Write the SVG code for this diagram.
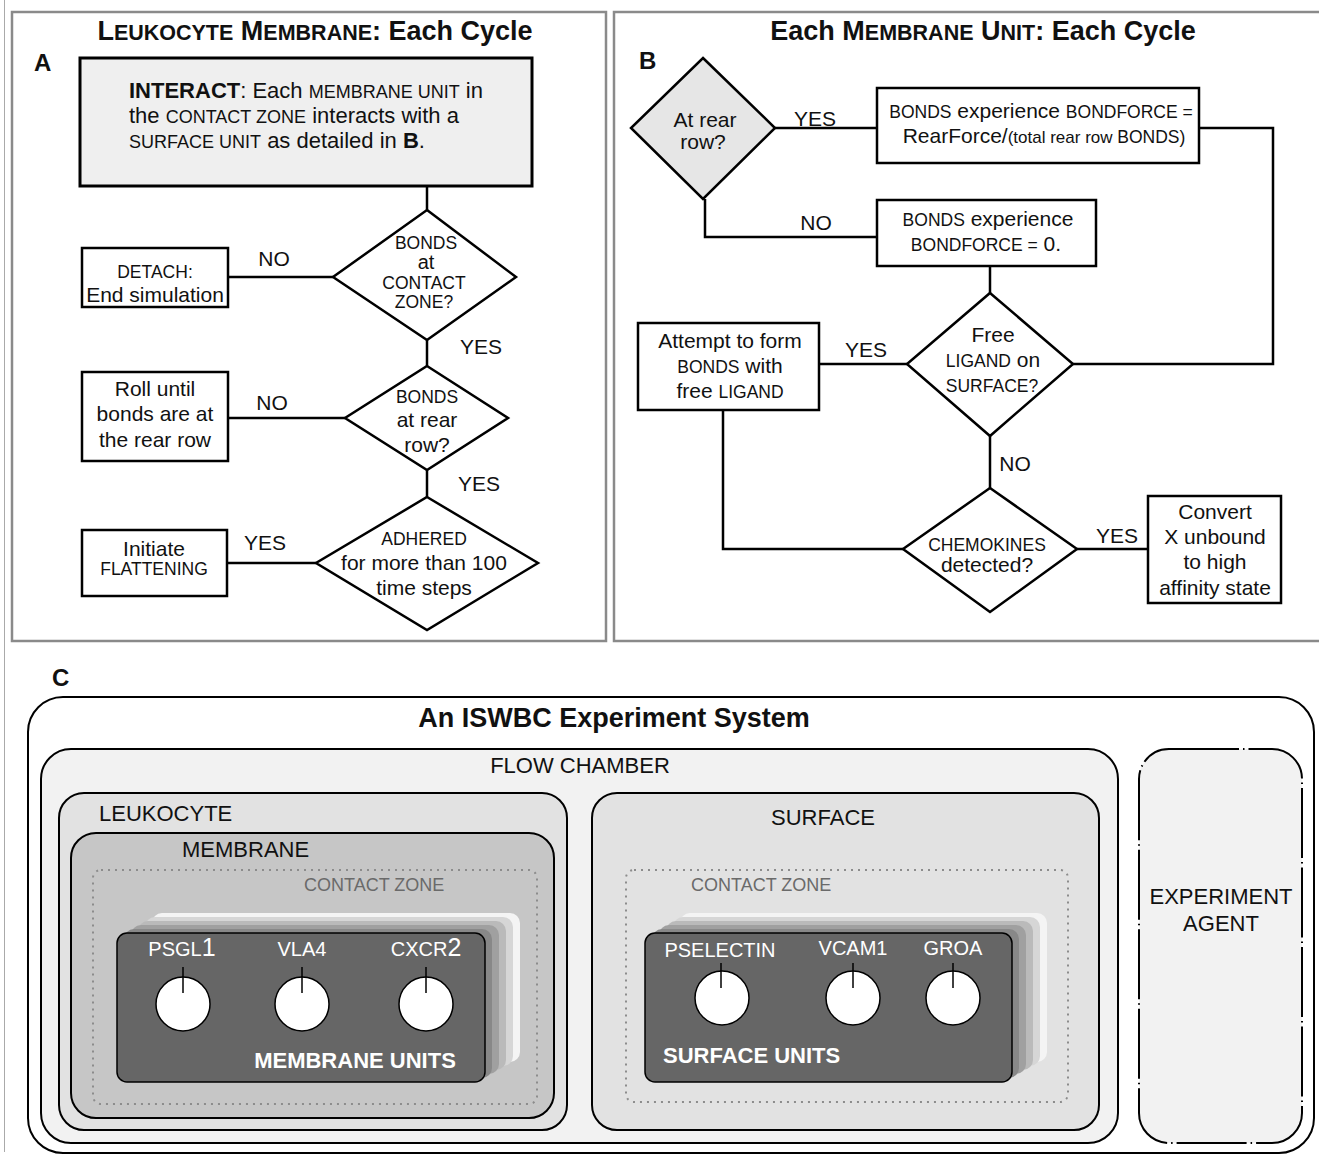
<svg xmlns="http://www.w3.org/2000/svg" width="1319" height="1156" viewBox="0 0 1319 1156">
<style>
text { font-family: "Liberation Sans", Arial, sans-serif; fill: #111; }
.t { font-size: 21px; text-anchor: middle; }
.l { font-size: 21px; text-anchor: start; }
.i { font-size: 22px; text-anchor: start; }
.sc { font-size: 17.5px; }
.b { font-weight: bold; }
.ttl { font-size: 27px; font-weight: bold; text-anchor: middle; }
.tsc { font-size: 21.5px; }
.frame { fill: none; stroke: #8a8a8a; stroke-width: 2.5; }
.box { fill: #fff; stroke: #000; stroke-width: 2.5; }
.dia { fill: #fff; stroke: #000; stroke-width: 2.5; }
.conn line, .conn polyline { stroke: #000; stroke-width: 2.5; fill: none; }
.cont { stroke: #000; stroke-width: 2; }
.cz { fill: none; stroke: #8c8c8c; stroke-width: 2; stroke-dasharray: 2 5; }
.czl { font-size: 18px; fill: #6a6a6a; }
.card { fill: #666; stroke: #000; stroke-width: 1.5; }
.knob { fill: #fff; stroke: #000; stroke-width: 1.5; }
.tick { stroke: #000; stroke-width: 1.5; }
.wl { font-size: 20px; fill: #fff; text-anchor: middle; }
.wb { font-weight: bold; fill: #fff; }
.c22 { font-size: 22px; }
</style>

<line x1="4.5" y1="0" x2="4.5" y2="1152" stroke="#aaa" stroke-width="1"/>

<!-- Panel frames -->
<rect class="frame" x="12" y="12" width="594" height="629"/>
<rect class="frame" x="614" y="12" width="720" height="629"/>

<!-- Panel A -->
<g id="panelA-title">
<text class="ttl" x="315" y="40">L<tspan class="tsc">EUKOCYTE</tspan> M<tspan class="tsc">EMBRANE</tspan>: Each Cycle</text>
<text class="b" x="34" y="71" font-size="24">A</text>
</g>

<g class="conn" id="connectors">
<line x1="427" y1="186" x2="427" y2="210"/>
<line x1="228" y1="277" x2="333" y2="277"/>
<line x1="427" y1="340" x2="427" y2="366"/>
<line x1="228" y1="418" x2="345" y2="418"/>
<line x1="427" y1="470" x2="427" y2="497"/>
<line x1="227" y1="563" x2="316" y2="563"/>
<!-- Panel B -->
<line x1="775" y1="128" x2="877" y2="128"/>
<polyline points="1199,128 1273,128 1273,364 1073,364"/>
<polyline points="705,199 705,237 877,237"/>
<line x1="990" y1="266" x2="990" y2="293"/>
<line x1="819" y1="364" x2="907" y2="364"/>
<line x1="990" y1="436" x2="990" y2="488"/>
<polyline points="723,410 723,549 903,549"/>
<line x1="1077" y1="549" x2="1148" y2="549"/>
</g>

<g id="interact">
<rect x="80" y="58" width="452" height="128" fill="#efefef" stroke="#000" stroke-width="3"/>
<text class="i" x="129" y="98"><tspan class="b">INTERACT</tspan>: Each <tspan font-size="18">MEMBRANE UNIT</tspan> in</text>
<text class="i" x="129" y="123">the <tspan font-size="18">CONTACT ZONE</tspan> interacts with a</text>
<text class="i" x="129" y="148"><tspan font-size="18">SURFACE UNIT</tspan> as detailed in <tspan class="b">B</tspan>.</text>
</g>

<g id="bonds-contact">
<polygon class="dia" points="427,210 516,277 427,340 333,277"/>
<text class="t"><tspan class="sc" x="426" y="249">BONDS</tspan><tspan x="426" y="269" font-size="20">at</tspan><tspan class="sc" x="424" y="289">CONTACT</tspan><tspan class="sc" x="424" y="308">ZONE?</tspan></text>
</g>
<g id="detach">
<rect class="box" x="82" y="248" width="146" height="59"/>
<text class="t" x="155" y="278"><tspan class="sc">DETACH:</tspan></text>
<text class="t" x="155" y="302">End simulation</text>
</g>
<text class="t" x="274" y="266">NO</text>
<text class="t" x="481" y="354">YES</text>

<g id="bonds-rear">
<polygon class="dia" points="427,366 508,418 427,470 345,418"/>
<text class="t"><tspan class="sc" x="427" y="403">BONDS</tspan><tspan x="427" y="427">at rear</tspan><tspan x="427" y="452">row?</tspan></text>
</g>
<g id="roll">
<rect class="box" x="82" y="372" width="146" height="89"/>
<text class="t" x="155" y="396">Roll until</text>
<text class="t" x="155" y="421">bonds are at</text>
<text class="t" x="155" y="447">the rear row</text>
</g>
<text class="t" x="272" y="410">NO</text>
<text class="t" x="479" y="491">YES</text>

<g id="adhered">
<polygon class="dia" points="427,497 538,563 427,630 316,563"/>
<text class="t" x="424" y="545"><tspan class="sc">ADHERED</tspan></text>
<text class="t" x="424" y="570">for more than 100</text>
<text class="t" x="424" y="595">time steps</text>
</g>
<g id="flatten">
<rect class="box" x="82" y="530" width="145" height="66"/>
<text class="t" x="154" y="556">Initiate</text>
<text class="t" x="154" y="575"><tspan class="sc">FLATTENING</tspan></text>
</g>
<text class="t" x="265" y="550">YES</text>

<!-- Panel B -->
<g id="panelB-title">
<text class="ttl" x="983" y="40">Each M<tspan class="tsc">EMBRANE</tspan> U<tspan class="tsc">NIT</tspan>: Each Cycle</text>
<text class="b" x="639" y="69" font-size="24">B</text>
</g>

<g id="at-rear">
<polygon points="703,58 775,128 703,199 631,128" fill="#e6e6e6" stroke="#000" stroke-width="2.5"/>
<text class="t"><tspan x="705" y="127">At rear</tspan><tspan x="703" y="149">row?</tspan></text>
</g>
<text class="t" x="815" y="126">YES</text>
<g id="rearforce">
<rect class="box" x="877" y="88" width="322" height="75"/>
<text class="t" x="1041" y="118"><tspan class="sc">BONDS</tspan> experience <tspan class="sc">BONDFORCE =</tspan></text>
<text class="t" x="1044" y="143">RearForce/<tspan font-size="17">(total rear row </tspan><tspan class="sc">BONDS)</tspan></text>
</g>
<text class="t" x="816" y="230">NO</text>
<g id="zeroforce">
<rect class="box" x="877" y="200" width="219" height="66"/>
<text class="t" x="988" y="226"><tspan class="sc">BONDS</tspan> experience</text>
<text class="t" x="986" y="251"><tspan class="sc">BONDFORCE =</tspan> 0.</text>
</g>

<g id="free-ligand">
<polygon class="dia" points="990,293 1073,364 990,436 907,364"/>
<text class="t" x="993" y="342">Free</text>
<text class="t" x="993" y="367"><tspan class="sc">LIGAND</tspan> on</text>
<text class="t" x="992" y="392"><tspan class="sc">SURFACE?</tspan></text>
</g>
<text class="t" x="866" y="357">YES</text>
<g id="attempt">
<rect class="box" x="638" y="323" width="181" height="87"/>
<text class="t" x="730" y="348">Attempt to form</text>
<text class="t" x="730" y="373"><tspan class="sc">BONDS</tspan> with</text>
<text class="t" x="730" y="398">free <tspan class="sc">LIGAND</tspan></text>
</g>
<text class="t" x="1015" y="471">NO</text>

<g id="chemokines">
<polygon class="dia" points="990,488 1077,549 990,612 903,549"/>
<text class="t" x="987" y="551"><tspan class="sc">CHEMOKINES</tspan></text>
<text class="t" x="987" y="572">detected?</text>
</g>
<text class="t" x="1117" y="543">YES</text>
<g id="convert">
<rect class="box" x="1148" y="496" width="133" height="107"/>
<text class="t" x="1215" y="519">Convert</text>
<text class="t" x="1215" y="544">X unbound</text>
<text class="t" x="1215" y="569">to high</text>
<text class="t" x="1215" y="595">affinity state</text>
</g>

<!-- Panel C -->
<text class="b" x="52" y="686" font-size="24">C</text>

<g id="system">
<rect class="cont" x="28" y="697" width="1286" height="456" rx="35" fill="#fff"/>
<text class="ttl" x="614" y="727" font-size="26">An ISWBC Experiment System</text>
</g>

<g id="flow-chamber">
<rect class="cont" x="41" y="749" width="1077" height="394" rx="30" fill="#f2f2f2"/>
<text class="t c22" x="580" y="773">FLOW CHAMBER</text>
</g>

<g id="leukocyte">
<rect class="cont" x="59" y="793" width="508" height="337" rx="25" fill="#e2e2e2"/>
<text class="l c22" x="99" y="821">LEUKOCYTE</text>
</g>

<g id="membrane">
<rect class="cont" x="71" y="833" width="483" height="285" rx="25" fill="#c6c6c6"/>
<text class="l c22" x="182" y="857">MEMBRANE</text>
<rect class="cz" x="93" y="870" width="444" height="234" rx="8"/>
<text class="czl" x="304" y="891">CONTACT ZONE</text>
</g>

<g id="membrane-units">
<rect x="152" y="913" width="368" height="149" rx="10" fill="#f4f4f4"/>
<rect x="145" y="917" width="368" height="149" rx="10" fill="#d6d6d6"/>
<rect x="138" y="921" width="368" height="149" rx="10" fill="#bababa"/>
<rect x="131" y="925" width="368" height="149" rx="10" fill="#a0a0a0"/>
<rect x="124" y="929" width="368" height="149" rx="10" fill="#888"/>
<rect class="card" x="117" y="933" width="368" height="149" rx="10"/>
<text class="wl" x="182" y="956">PSGL<tspan font-size="25">1</tspan></text>
<text class="wl" x="302" y="956">VLA4</text>
<text class="wl" x="426" y="956">CXCR<tspan font-size="25">2</tspan></text>
<circle class="knob" cx="183" cy="1004" r="27"/>
<circle class="knob" cx="302" cy="1004" r="27"/>
<circle class="knob" cx="426" cy="1004" r="27"/>
<line class="tick" x1="183" y1="967" x2="183" y2="993"/>
<line class="tick" x1="302" y1="967" x2="302" y2="993"/>
<line class="tick" x1="426" y1="967" x2="426" y2="993"/>
<text class="wb" x="355" y="1068" font-size="22" text-anchor="middle">MEMBRANE UNITS</text>
</g>

<g id="surface">
<rect class="cont" x="592" y="793" width="507" height="337" rx="25" fill="#e2e2e2"/>
<text class="t c22" x="823" y="825">SURFACE</text>
<rect class="cz" x="626" y="870" width="442" height="232" rx="8"/>
<text class="czl" x="691" y="891">CONTACT ZONE</text>
</g>

<g id="surface-units">
<rect x="680" y="913" width="367" height="149" rx="10" fill="#f4f4f4"/>
<rect x="673" y="917" width="367" height="149" rx="10" fill="#d6d6d6"/>
<rect x="666" y="921" width="367" height="149" rx="10" fill="#bababa"/>
<rect x="659" y="925" width="367" height="149" rx="10" fill="#a0a0a0"/>
<rect x="652" y="929" width="367" height="149" rx="10" fill="#888"/>
<rect class="card" x="645" y="933" width="367" height="149" rx="10"/>
<text class="wl" x="720" y="957">PSELECTIN</text>
<text class="wl" x="853" y="955">VCAM1</text>
<text class="wl" x="953" y="955">GROA</text>
<circle class="knob" cx="722" cy="998" r="27"/>
<circle class="knob" cx="853" cy="998" r="27"/>
<circle class="knob" cx="953" cy="998" r="27"/>
<line class="tick" x1="721" y1="963" x2="721" y2="988"/>
<line class="tick" x1="853" y1="963" x2="853" y2="988"/>
<line class="tick" x1="953" y1="963" x2="953" y2="988"/>
<text class="wb" x="663" y="1063" font-size="22">SURFACE UNITS</text>
</g>

<g id="experiment-agent">
<rect x="1139" y="749" width="163" height="394" rx="30" fill="#f2f2f2" stroke="#000" stroke-width="2" stroke-dasharray="70 4 1.5 4"/>
<text class="t c22" x="1221" y="904">EXPERIMENT</text>
<text class="t c22" x="1221" y="931">AGENT</text>
</g>
</svg>
